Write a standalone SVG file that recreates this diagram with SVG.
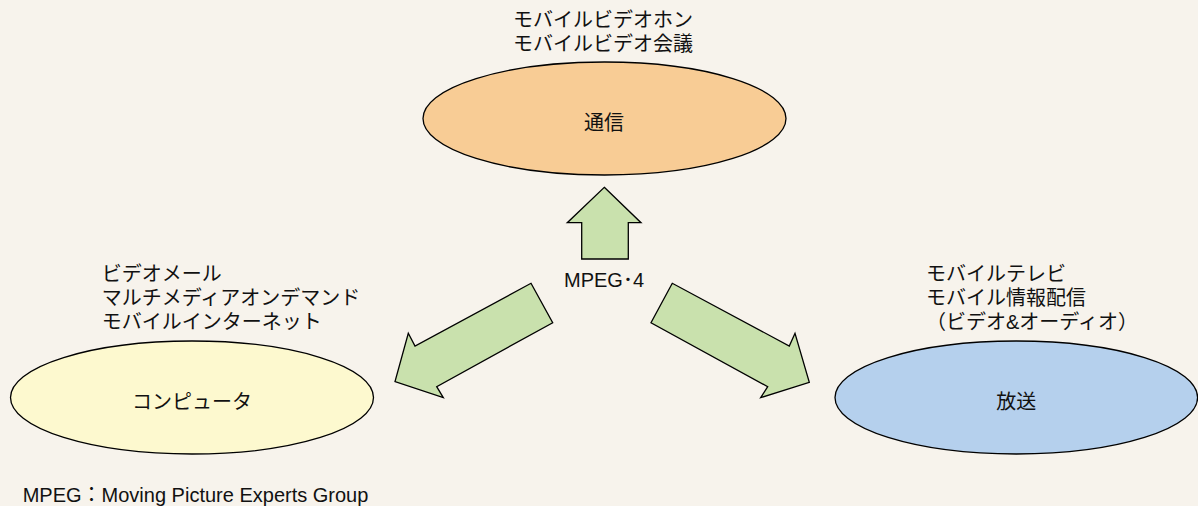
<svg xmlns="http://www.w3.org/2000/svg" width="1198" height="506" viewBox="0 0 1198 506">
<style>
text { font-family: "Liberation Sans", "Noto Sans CJK JP", sans-serif; font-size: 20px; fill: #111; }
.c { text-anchor: middle; }
.ell { stroke: #000; stroke-width: 1.3; }
.arrow { fill: #C9E1AD; stroke: #000; stroke-width: 1.3; stroke-linejoin: miter; }
</style>
<rect width="1198" height="506" fill="#F7F3EC"/>
<g id="connectors">
  <polygon class="arrow" points="604.3,187.3 641,222.7 628.3,222.7 628.3,259 581.7,259 581.7,222.7 567.3,222.7"/>
  <polygon class="arrow" points="531,283.3 552.7,322.7 436.7,386.7 443.3,397.7 395,381.7 408.3,333.3 415,346"/>
  <polygon class="arrow" points="672.3,283.3 651,322.7 767.7,386.7 760.7,397.7 809.3,382.3 795,333.3 789.3,346"/>
  <text class="c" x="604" y="287">MPEG･4</text>
</g>
<g id="node-tsushin">
  <ellipse class="ell" cx="604.5" cy="118.5" rx="181.5" ry="56.5" fill="#F8CC95"/>
  <text class="c" x="604" y="130">通信</text>
  <text x="513" y="27">モバイルビデオホン</text>
  <text x="513" y="51">モバイルビデオ会議</text>
</g>
<g id="node-computer">
  <ellipse class="ell" cx="192" cy="397.5" rx="181.5" ry="56.5" fill="#FDF9CF"/>
  <text class="c" x="192" y="409">コンピュータ</text>
  <text x="101.7" y="281">ビデオメール</text>
  <text x="101.7" y="305">マルチメディアオンデマンド</text>
  <text x="101.7" y="329">モバイルインターネット</text>
</g>
<g id="node-housou">
  <ellipse class="ell" cx="1016.3" cy="397.5" rx="181.3" ry="56.5" fill="#B5D0ED"/>
  <text class="c" x="1016.3" y="409">放送</text>
  <text x="926" y="281">モバイルテレビ</text>
  <text x="926" y="305">モバイル情報配信</text>
  <text x="926" y="329">（ビデオ&amp;オーディオ）</text>
</g>
<text x="22.7" y="502">MPEG：Moving Picture Experts Group</text>
</svg>
